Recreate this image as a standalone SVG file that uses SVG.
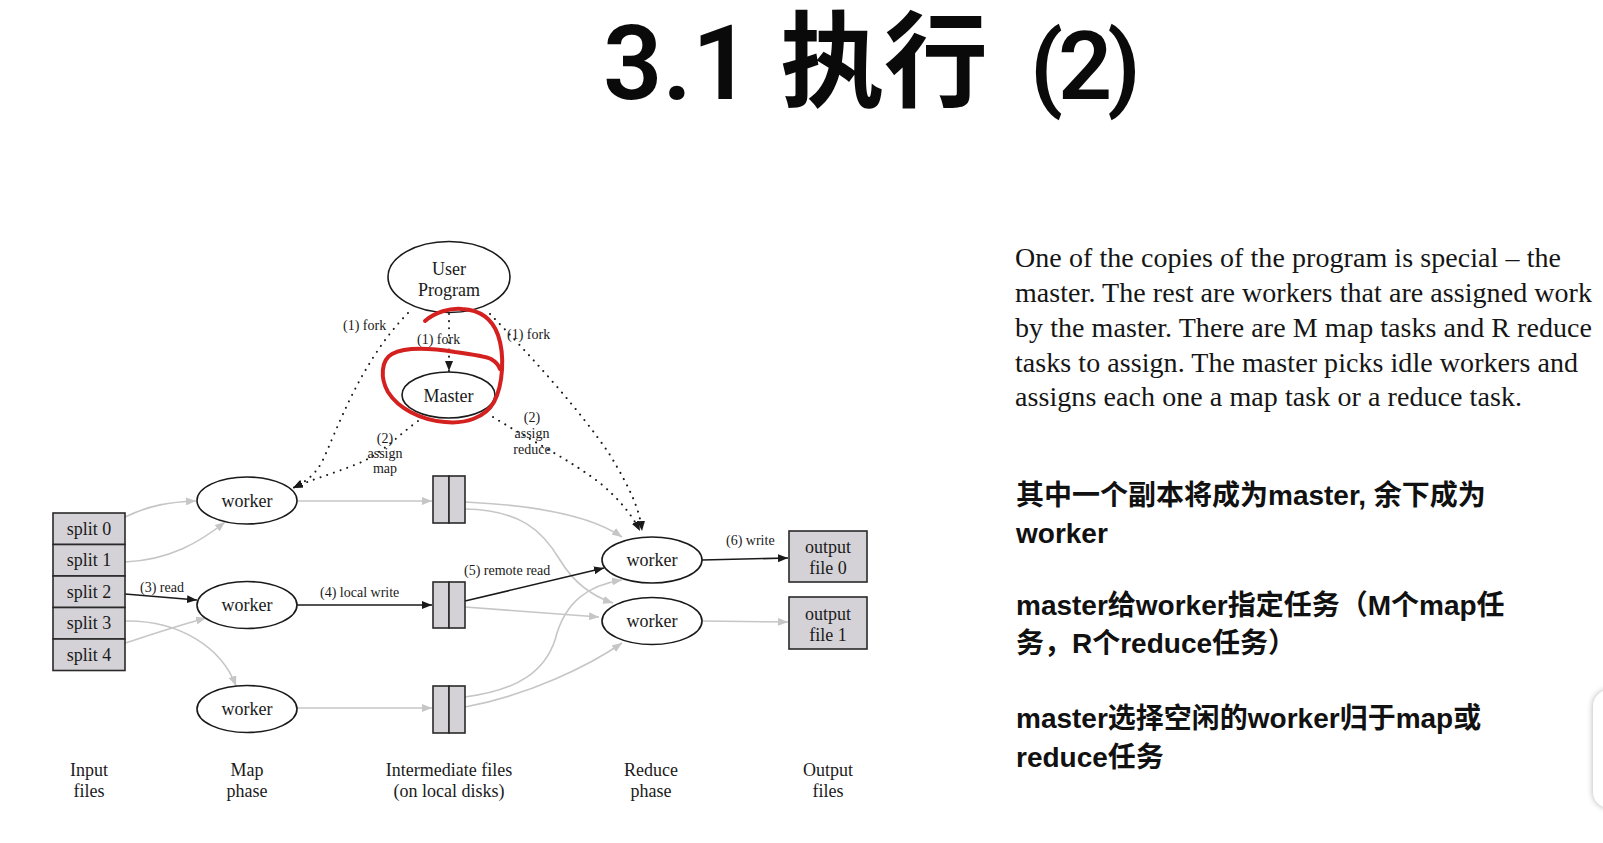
<svg xmlns="http://www.w3.org/2000/svg" width="1603" height="843" viewBox="0 0 1603 843">
<style>
  .lbl { font-family: "Liberation Serif", "Times New Roman", serif; fill: #1a1a1a; }
  .node { font-size: 18px; text-anchor: middle; }
  .edge { font-size: 14px; }
  .ell { fill: #ffffff; stroke: #1a1a1a; stroke-width: 1.6; }
  .box { fill: #d4d2d7; stroke: #2a2a2a; stroke-width: 1.6; }
  .gray { fill: none; stroke: #c6c6c6; stroke-width: 1.6; }
  .black { fill: none; stroke: #1a1a1a; stroke-width: 1.6; }
  .dot { fill: none; stroke: #1a1a1a; stroke-width: 2; stroke-dasharray: 0.1 7; stroke-linecap: round; }
  .zh { font-family: "Liberation Sans", "Noto Sans CJK SC", sans-serif; font-weight: bold; font-size: 28px; fill: #111; }
  .en { font-family: "Liberation Serif", "Times New Roman", serif; font-size: 28px; fill: #151515; }
  .ttl { font-family: Roboto, "Liberation Sans", "Noto Sans CJK SC", sans-serif; font-weight: 600; fill: #0a0a0a; }
</style>
<defs>
  <marker id="ab" viewBox="0 0 10 8" refX="10" refY="4" markerWidth="10" markerHeight="8" markerUnits="userSpaceOnUse" orient="auto">
    <path d="M0,0 L10,4 L0,8 z" fill="#1a1a1a"/>
  </marker>
  <marker id="ag" viewBox="0 0 10 8" refX="10" refY="4" markerWidth="10" markerHeight="8" markerUnits="userSpaceOnUse" orient="auto">
    <path d="M0,0 L10,4 L0,8 z" fill="#c6c6c6"/>
  </marker>
  <filter id="sh" x="-50%" y="-20%" width="200%" height="140%">
    <feGaussianBlur stdDeviation="3"/>
  </filter>
</defs>
<rect width="1603" height="843" fill="#ffffff"/>

<!-- Title -->
<g id="title">
  <text class="ttl" x="603" y="99" font-size="104">3.1</text>
  <text class="ttl" x="780" y="99" font-size="104" font-family="Noto Sans CJK SC, sans-serif" font-weight="500">执行</text>
  <text class="ttl" x="1030" y="99" font-size="95" letter-spacing="-5">(2)</text>
</g>

<!-- Connectors -->
<g id="connectors">
  <!-- dotted control edges -->
  <path class="dot" d="M408,313 C360,362 337,430 322,462 C314,476 305,482 293,488" marker-end="url(#ab)"/>
  <path class="dot" d="M418,421 C397,436 382,454 357,464 C332,474 310,480 293,488" marker-end="url(#ab)"/>
  <path class="dot" d="M449,314 L449,371" marker-end="url(#ab)"/>
  <path class="dot" d="M490,314 C530,355 580,410 610,455 C630,488 640,510 642,531" marker-end="url(#ab)"/>
  <path class="dot" d="M493,417 C530,440 570,460 600,483 C620,500 632,515 640,531" marker-end="url(#ab)"/>

  <!-- input splits to map workers -->
  <path class="gray" d="M125,517 C150,505 170,502 196,501" marker-end="url(#ag)"/>
  <path class="gray" d="M125,562 C170,560 200,542 225,522" marker-end="url(#ag)"/>
  <path class="black" d="M125,594 L197,600" marker-end="url(#ab)"/>
  <path class="gray" d="M125,621 C180,620 222,648 236,686" marker-end="url(#ag)"/>
  <path class="gray" d="M125,643 C150,635 180,625 206,618" marker-end="url(#ag)"/>

  <!-- map workers to intermediate files -->
  <path class="gray" d="M297,501 L432,501" marker-end="url(#ag)"/>
  <path class="black" d="M297,605 L432,605" marker-end="url(#ab)"/>
  <path class="gray" d="M297,708 L432,708" marker-end="url(#ag)"/>

  <!-- intermediate files to reduce workers -->
  <path class="gray" d="M465,502 C530,505 590,515 622,537" marker-end="url(#ag)"/>
  <path class="gray" d="M465,509 C520,510 542,530 560,560 C575,585 595,597 613,603" marker-end="url(#ag)"/>
  <path class="black" d="M465,601 L604,568" marker-end="url(#ab)"/>
  <path class="gray" d="M465,607 L599,617" marker-end="url(#ag)"/>
  <path class="gray" d="M465,697 C520,690 545,670 555,640 C565,600 590,585 622,580" marker-end="url(#ag)"/>
  <path class="gray" d="M465,707 C530,695 590,665 622,643" marker-end="url(#ag)"/>

  <!-- reduce workers to output -->
  <path class="black" d="M702,560 L788,558" marker-end="url(#ab)"/>
  <path class="gray" d="M702,621 L788,622" marker-end="url(#ag)"/>

  <!-- edge labels -->
  <text class="lbl edge" x="343" y="330">(1) fork</text>
  <text class="lbl edge" x="417" y="344">(1) fork</text>
  <text class="lbl edge" x="507" y="339">(1) fork</text>
  <text class="lbl edge" x="385" y="443" text-anchor="middle">(2)</text>
  <text class="lbl edge" x="385" y="458" text-anchor="middle">assign</text>
  <text class="lbl edge" x="385" y="473" text-anchor="middle">map</text>
  <text class="lbl edge" x="532" y="422" text-anchor="middle">(2)</text>
  <text class="lbl edge" x="532" y="438" text-anchor="middle">assign</text>
  <text class="lbl edge" x="532" y="454" text-anchor="middle">reduce</text>
  <text class="lbl edge" x="140" y="592">(3) read</text>
  <text class="lbl edge" x="320" y="597">(4) local write</text>
  <text class="lbl edge" x="464" y="575">(5) remote read</text>
  <text class="lbl edge" x="726" y="545">(6) write</text>
</g>

<!-- Nodes -->
<g id="user-program">
  <ellipse class="ell" cx="449" cy="277" rx="61" ry="35.5"/>
  <text class="lbl node" x="449" y="275">User</text>
  <text class="lbl node" x="449" y="296">Program</text>
</g>
<g id="master">
  <ellipse class="ell" cx="448.5" cy="395" rx="46.5" ry="23"/>
  <text class="lbl node" x="448.5" y="402">Master</text>
</g>

<g id="input-files">
  <rect class="box" x="53" y="513" width="72" height="31.5"/>
  <rect class="box" x="53" y="544.5" width="72" height="31.5"/>
  <rect class="box" x="53" y="576" width="72" height="31.5"/>
  <rect class="box" x="53" y="607.5" width="72" height="31.5"/>
  <rect class="box" x="53" y="639" width="72" height="31.5"/>
  <text class="lbl node" x="89" y="535">split 0</text>
  <text class="lbl node" x="89" y="566">split 1</text>
  <text class="lbl node" x="89" y="598">split 2</text>
  <text class="lbl node" x="89" y="629">split 3</text>
  <text class="lbl node" x="89" y="661">split 4</text>
</g>

<g id="map-worker-1">
  <ellipse class="ell" cx="247" cy="500.5" rx="50" ry="23.5"/>
  <text class="lbl node" x="247" y="507">worker</text>
</g>
<g id="map-worker-2">
  <ellipse class="ell" cx="247" cy="605" rx="50" ry="23.5"/>
  <text class="lbl node" x="247" y="611">worker</text>
</g>
<g id="map-worker-3">
  <ellipse class="ell" cx="247" cy="709" rx="50" ry="23.5"/>
  <text class="lbl node" x="247" y="715">worker</text>
</g>

<g id="intermediate-1">
  <rect class="box" x="433" y="476" width="16" height="47"/>
  <rect class="box" x="449" y="476" width="16" height="47"/>
</g>
<g id="intermediate-2">
  <rect class="box" x="433" y="582" width="16" height="46"/>
  <rect class="box" x="449" y="582" width="16" height="46"/>
</g>
<g id="intermediate-3">
  <rect class="box" x="433" y="686" width="16" height="47"/>
  <rect class="box" x="449" y="686" width="16" height="47"/>
</g>

<g id="reduce-worker-1">
  <ellipse class="ell" cx="652" cy="560" rx="50" ry="23"/>
  <text class="lbl node" x="652" y="566">worker</text>
</g>
<g id="reduce-worker-2">
  <ellipse class="ell" cx="652" cy="621" rx="50" ry="23.5"/>
  <text class="lbl node" x="652" y="627">worker</text>
</g>

<g id="output-file-0">
  <rect class="box" x="789" y="531" width="78" height="51"/>
  <text class="lbl node" x="828" y="553">output</text>
  <text class="lbl node" x="828" y="574">file 0</text>
</g>
<g id="output-file-1">
  <rect class="box" x="789" y="597" width="78" height="52"/>
  <text class="lbl node" x="828" y="620">output</text>
  <text class="lbl node" x="828" y="641">file 1</text>
</g>

<g id="phase-labels">
  <text class="lbl node" x="89" y="776">Input</text>
  <text class="lbl node" x="89" y="797">files</text>
  <text class="lbl node" x="247" y="776">Map</text>
  <text class="lbl node" x="247" y="797">phase</text>
  <text class="lbl node" x="449" y="776">Intermediate files</text>
  <text class="lbl node" x="449" y="797">(on local disks)</text>
  <text class="lbl node" x="651" y="776">Reduce</text>
  <text class="lbl node" x="651" y="797">phase</text>
  <text class="lbl node" x="828" y="776">Output</text>
  <text class="lbl node" x="828" y="797">files</text>
</g>

<!-- red hand-drawn annotation -->
<path id="annotation" d="M425,321 C435,312 450,308 462,309 C480,310 492,318 498,335 C505,355 503,385 494,402 C485,418 465,424 445,422 C420,420 398,408 388,392 C380,378 381,360 392,354 C405,347 430,348 455,352 C470,354 485,356 491,359 C496,362 499,366 500,369" fill="none" stroke="#d4211f" stroke-width="4" stroke-linecap="round" stroke-linejoin="round"/>

<!-- English paragraph -->
<g id="english-text" class="en">
  <text x="1015" y="267" textLength="546" lengthAdjust="spacing">One of the copies of the program is special – the</text>
  <text x="1015" y="302" textLength="577" lengthAdjust="spacing">master. The rest are workers that are assigned work</text>
  <text x="1015" y="337" textLength="577" lengthAdjust="spacing">by the master. There are M map tasks and R reduce</text>
  <text x="1015" y="372" textLength="563" lengthAdjust="spacing">tasks to assign. The master picks idle workers and</text>
  <text x="1015" y="406" textLength="507" lengthAdjust="spacing">assigns each one a map task or a reduce task.</text>
</g>

<!-- Chinese notes -->
<g id="chinese-text" class="zh">
  <text x="1016" y="505">其中一个副本将成为master, 余下成为</text>
  <text x="1016" y="543">worker</text>
  <text x="1016" y="615">master给worker指定任务（M个map任</text>
  <text x="1016" y="653">务，R个reduce任务）</text>
  <text x="1016" y="728">master选择空闲的worker归于map或</text>
  <text x="1016" y="767">reduce任务</text>
</g>

<!-- partial UI element at right edge -->
<g id="edge-widget">
  <rect x="1593" y="690" width="40" height="118" rx="16" fill="#000" opacity="0.3" filter="url(#sh)"/>
  <rect x="1593" y="690" width="40" height="118" rx="16" fill="#ffffff"/>
</g>
</svg>
